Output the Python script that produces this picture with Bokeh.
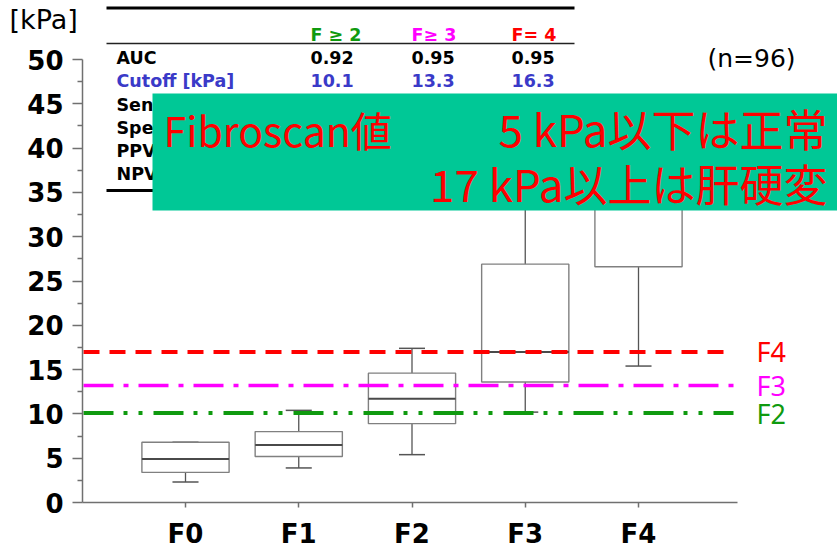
from bokeh.plotting import figure
from bokeh.models import Range1d, FixedTicker, ColumnDataSource
from bokeh.core.properties import value
from bokeh.embed import file_html
from bokeh.resources import INLINE

# ---------------- data ----------------
categories = ["F0", "F1", "F2", "F3", "F4"]
q1 = [3.4, 5.2, 8.9, 13.6, 26.6]
medians = [4.9, 6.5, 11.7, 17.0, 36.0]
q3 = [6.8, 8.0, 14.6, 26.9, 41.0]
whisker_low = [2.3, 3.9, 5.4, 10.2, 15.4]
whisker_high = [6.8, 10.4, 17.4, 44.0, 45.0]

cutoff_labels = ["F2", "F3", "F4"]
cutoff_values = [10.1, 13.2, 17.0]

table_columns = ["F ≥ 2", "F≥ 3", "F= 4"]
table_rows = ["AUC", "Cutoff [kPa]", "Sensitivity", "Specificity", "PPV", "NPV"]
auc_values = ["0.92", "0.95", "0.95"]
cutoff_kpa = ["10.1", "13.3", "16.3"]

y_ticks = [0, 5, 10, 15, 20, 25, 30, 35, 40, 45, 50]
y_minor = [2.5, 7.5, 12.5, 17.5, 22.5, 27.5, 32.5, 37.5, 42.5, 47.5]

unit_label = "[kPa]"
n_label = "(n=96)"
note_title = "Fibroscan値"
note_lines = ["5 kPa以下は正常", "17 kPa以上は肝硬変"]

# ---------------- layout helpers (picture px -> data) ----------------
W, H = 837, 547
OFF = 0                       # picture offset of the canvas
PX0, DXPX = 185.0, 113.25     # picture x of category 0, px per category
PY0, DYPX = 502.0, 8.86       # picture y of value 0, px per kPa


def dx(px):
    return (px - PX0) / DXPX


def dy(py):
    return (PY0 - py) / DYPX


GREEN_LINE = "#0f9a0f"
MAGENTA = "#ff00ff"
RED = "#ff0000"
BLUE = "#3a3ac8"
FONT = "DejaVu Sans"
JFONT = "Noto Sans CJK JP"

p = figure(width=W, height=H, output_backend="svg", toolbar_location=None,
           x_range=Range1d(dx(OFF), dx(OFF + W)), y_range=Range1d(dy(OFF + H), dy(OFF)),
           min_border=0, min_border_left=0, min_border_right=0,
           min_border_top=0, min_border_bottom=0)
p.outline_line_color = None
p.grid.visible = False
p.background_fill_color = "white"
p.border_fill_color = "white"

# axes
xa = p.xaxis[0]
xa.fixed_location = 0
xa.bounds = (dx(82), dx(737))
xa.ticker = FixedTicker(ticks=list(range(len(categories))))
xa.major_label_overrides = {i: c for i, c in enumerate(categories)}
xa.major_tick_out = 5
xa.major_tick_in = 0
xa.minor_tick_line_color = None
xa.axis_line_color = "#707070"
xa.axis_line_width = 1.5
xa.major_tick_line_color = "#707070"
xa.major_tick_line_width = 1.5
xa.major_label_text_font = FONT
xa.major_label_text_font_style = "bold"
xa.major_label_text_font_size = "26px"
xa.major_label_text_color = "black"
xa.major_label_standoff = 11

ya = p.yaxis[0]
ya.fixed_location = dx(82)
ya.bounds = (0, 50)
ya.ticker = FixedTicker(ticks=y_ticks, minor_ticks=y_minor)
ya.major_tick_out = 10
ya.major_tick_in = 0
ya.minor_tick_out = 5
ya.minor_tick_in = 0
ya.axis_line_color = "#707070"
ya.axis_line_width = 1.5
ya.major_tick_line_color = "#707070"
ya.major_tick_line_width = 1.5
ya.minor_tick_line_color = "#707070"
ya.minor_tick_line_width = 1.5
ya.major_label_text_font = FONT
ya.major_label_text_font_style = "bold"
ya.major_label_text_font_size = "26px"
ya.major_label_text_color = "black"
ya.major_label_standoff = 9

# ---------------- box plot ----------------
idx = list(range(len(categories)))
src = ColumnDataSource(dict(
    x=idx, q1=q1, q3=q3, med=medians, lo=whisker_low, hi=whisker_high,
    xl=[i - 0.385 for i in idx], xr=[i + 0.385 for i in idx],
    cl=[i - 0.115 for i in idx], cr=[i + 0.115 for i in idx],
))
p.segment(x0="x", y0="q3", x1="x", y1="hi", source=src, line_color="#555555", line_width=1.3)
p.segment(x0="x", y0="q1", x1="x", y1="lo", source=src, line_color="#555555", line_width=1.3)
p.segment(x0="cl", y0="hi", x1="cr", y1="hi", source=src, line_color="#555555", line_width=1.5)
p.segment(x0="cl", y0="lo", x1="cr", y1="lo", source=src, line_color="#555555", line_width=1.5)
p.vbar(x="x", top="q3", bottom="q1", width=0.77, source=src,
       fill_color="white", line_color="#808080", line_width=1.4)
p.segment(x0="xl", y0="med", x1="xr", y1="med", source=src, line_color="#4a4a4a", line_width=2)

# ---------------- cutoff lines ----------------
line_colors = [GREEN_LINE, MAGENTA, RED]
line_dashes = ["30 10 4 11 4 11", "30 10 5 10", "16 10"]
line_widths = [4, 3.5, 4]
for val, col, dash, lw in zip(cutoff_values, line_colors, line_dashes, line_widths):
    p.segment(x0=[dx(83)], y0=[val], x1=[dx(733)], y1=[val],
              line_color=col, line_dash=dash, line_width=lw)
p.text(x=[dx(756)] * 3, y=cutoff_values, text=cutoff_labels,
       text_color=line_colors, text_font=value("Noto Sans"), text_font_size=value("27px"),
       text_baseline="middle", text_align="left")

# ---------------- table ----------------
p.segment(x0=[dx(106)], y0=[dy(7.5)], x1=[dx(574)], y1=[dy(7.5)], line_color="black", line_width=3)
p.segment(x0=[dx(106)], y0=[dy(43)], x1=[dx(574)], y1=[dy(43)], line_color="#222222", line_width=1.5)
p.segment(x0=[dx(106)], y0=[dy(190)], x1=[dx(574)], y1=[dy(190)], line_color="black", line_width=3)

col_x = [dx(310), dx(411), dx(511)]
row_y = [dy(57), dy(80), dy(104), dy(127), dy(150), dy(173)]
p.text(x=col_x, y=[dy(34)] * 3, text=table_columns, text_color=[GREEN_LINE, MAGENTA, RED],
       text_font=value(FONT), text_font_style="bold", text_font_size=value("17.5px"),
       text_baseline="middle", text_align="left")
p.text(x=[dx(116)] * len(table_rows), y=row_y, text=table_rows,
       text_color=["black", BLUE, "black", "black", "black", "black"],
       text_font=value(FONT), text_font_style="bold", text_font_size=value("17.5px"),
       text_baseline="middle", text_align="left")
p.text(x=col_x, y=[row_y[0]] * 3, text=auc_values, text_color="black",
       text_font=value(FONT), text_font_style="bold", text_font_size=value("17.5px"),
       text_baseline="middle", text_align="left")
p.text(x=col_x, y=[row_y[1]] * 3, text=cutoff_kpa, text_color=BLUE,
       text_font=value(FONT), text_font_style="bold", text_font_size=value("17.5px"),
       text_baseline="middle", text_align="left")

# unit label and n
p.text(x=[dx(9)], y=[dy(19)], text=[unit_label], text_color="black",
       text_font=value(FONT), text_font_size=value("27px"),
       text_baseline="middle", text_align="left")
p.text(x=[dx(707)], y=[dy(58)], text=[n_label], text_color="black",
       text_font=value(FONT), text_font_size=value("25px"),
       text_baseline="middle", text_align="left")

# ---------------- green note box ----------------
p.quad(left=[dx(152)], right=[dx(OFF + W + 5)], top=[dy(93)], bottom=[dy(210)],
       fill_color="#00c896", line_color=None)
p.text(x=[dx(163)], y=[dy(128)], text=[note_title], text_color=RED,
       text_font=value(JFONT), text_font_size=value("41px"),
       text_baseline="middle", text_align="left")
p.text(x=[dx(827)] * 2, y=[dy(127), dy(182)], text=note_lines, text_color=RED,
       text_font=value(JFONT), text_font_size=value("44px"),
       text_baseline="middle", text_align="right")

open("out.html", "w").write(file_html(p, INLINE))
